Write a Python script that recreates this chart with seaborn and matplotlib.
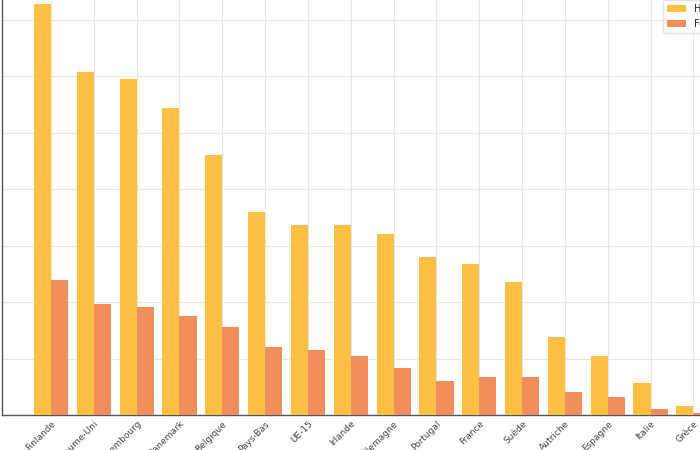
import matplotlib
matplotlib.use("Agg")
import matplotlib.pyplot as plt
import seaborn as sns
import pandas as pd

countries = ["Finlande", "Royaume-Uni", "Luxembourg", "Danemark", "Belgique",
             "Pays-Bas", "UE-15", "Irlande", "Allemagne", "Portugal", "France",
             "Suède", "Autriche", "Espagne", "Italie", "Grèce"]
hommes = [36.4, 30.4, 29.8, 27.2, 23.0, 18.0, 16.8, 16.8, 16.0, 14.0, 13.4,
          11.8, 6.9, 5.2, 2.8, 0.8]
femmes = [12.0, 9.8, 9.6, 8.8, 7.8, 6.0, 5.8, 5.2, 4.2, 3.0, 3.4,
          3.4, 2.0, 1.6, 0.5, 0.2]
series = ["Hommes", "Femmes"]
colors = ["#FCC045", "#F28D5C"]

df = pd.DataFrame({
    "pays": countries * 2,
    "valeur": hommes + femmes,
    "sexe": [series[0]] * len(countries) + [series[1]] * len(countries),
})

sns.set_style("whitegrid")
fig = plt.figure(figsize=(7, 4.5), dpi=100)

# axes extend beyond the visible canvas (cropped view)
unit_x = 42.83 / 700
unit_y = 56.43 / 5 / 450
xmin, xmax = -1.144, 16.6
ymin, ymax = 0, 40
left = 2 / 700
bottom = (450 - 415) / 450
ax = fig.add_axes([left, bottom, (xmax - xmin) * unit_x, (ymax - ymin) * unit_y])

sns.barplot(data=df, x="pays", y="valeur", hue="sexe", palette=colors,
            hue_order=series, order=countries, width=0.8, saturation=1,
            linewidth=0, edgecolor="none",
            ax=ax, zorder=3, legend=True)

ax.set_xlim(xmin, xmax)
ax.set_ylim(ymin, ymax)
ax.set_yticks(range(0, 41, 5))
ax.set_yticklabels([])
ax.set_xlabel("")
ax.set_ylabel("")
ax.grid(True, color="#e6e6e6", linewidth=0.8, zorder=0)
ax.set_axisbelow(True)
for s in ["left", "bottom"]:
    ax.spines[s].set_color("#555555")
    ax.spines[s].set_linewidth(1.0)
for s in ["top", "right"]:
    ax.spines[s].set_visible(False)
ax.tick_params(axis="both", direction="in", length=3, color="#555555")
ax.tick_params(axis="x", labelsize=6.5, labelcolor="#444444", pad=3)
plt.setp(ax.get_xticklabels(), rotation=45, ha="right", rotation_mode="anchor")

leg = ax.get_legend()
handles = leg.legend_handles
leg.remove()
fig.legend(handles, series, loc="lower left",
           bbox_to_anchor=(663 / 700, 1 - 33 / 450), fontsize=7,
           frameon=True, edgecolor="#dddddd", fancybox=True,
           borderaxespad=0, title=None)

fig.savefig("out.png", dpi=100)
